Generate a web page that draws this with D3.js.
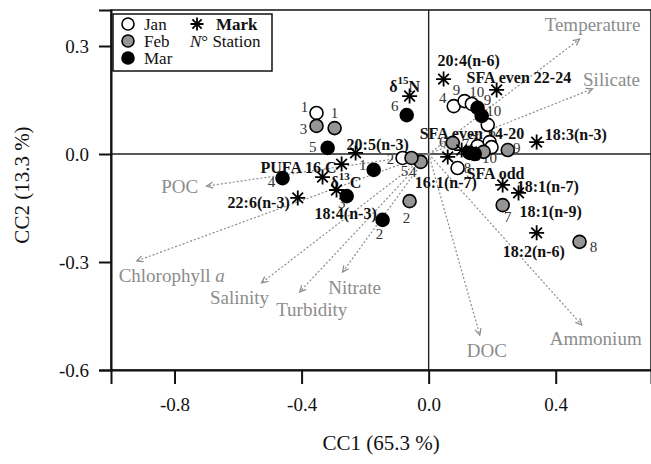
<!DOCTYPE html>
<html>
<head>
<meta charset="utf-8">
<script src="https://cdn.jsdelivr.net/npm/d3@7"></script>
<style>
  body { margin: 0; background: #fff; }
  text { font-family: 'Liberation Serif', 'Times New Roman', serif; }
</style>
</head>
<body>
<div id="chart"></div>
<script>
// station scores (CC1, CC2) by month, stations 1..10
const stations = [1, 2, 3, 4, 5, 6, 7, 8, 9, 10]
const janX = [-0.353, -0.082, 0.192, 0.079, 0.198, 0.186, 0.154, 0.091, 0.113, 0.136]
const janY = [0.114, -0.011, 0.033, 0.133, 0.019, 0.081, 0.022, -0.039, 0.147, 0.139]
const febX = [-0.296, -0.060, -0.353, -0.025, -0.054, 0.076, 0.233, 0.475, 0.249, 0.173]
const febY = [0.072, -0.131, 0.078, -0.022, -0.011, 0.031, -0.142, -0.244, 0.011, 0.006]
const marX = [-0.173, -0.145, -0.258, -0.460, -0.318, -0.069, 0.129, 0.145, 0.154, 0.167]
const marY = [-0.044, -0.183, -0.117, -0.067, 0.017, 0.108, 0.003, 0.0, 0.128, 0.106]

// fatty acid / isotope marks
const markNames = ['δ15N', '20:4(n-6)', 'SFA even 22-24', '18:3(n-3)', 'SFA even 14-20', 'SFA odd',
  '16:1(n-7)', '18:1(n-7)', '18:1(n-9)', '18:2(n-6)', '20:5(n-3)', 'PUFA 16 C', 'δ13C', '18:4(n-3)', '22:6(n-3)']
const markX = [-0.060, 0.047, 0.214, 0.340, 0.104, 0.135, 0.060, 0.233, 0.283, 0.340, -0.230, -0.274, -0.334, -0.290, -0.412]
const markY = [0.161, 0.208, 0.178, 0.033, 0.011, 0.006, -0.008, -0.086, -0.108, -0.219, 0.003, -0.028, -0.064, -0.100, -0.122]

// environmental vectors
const envNames = ['Temperature', 'Silicate', 'POC', 'Chlorophyll a', 'Salinity', 'Turbidity', 'Nitrate', 'DOC', 'Ammonium']
const envX = [0.475, 0.516, -0.699, -0.919, -0.526, -0.406, -0.271, 0.161, 0.482]
const envY = [0.319, 0.181, -0.089, -0.297, -0.358, -0.383, -0.328, -0.503, -0.475]

const xTicks = [-0.8, -0.4, 0.0, 0.4]
const yTicks = [-0.6, -0.3, 0.0, 0.3]
const months = ['Jan', 'Feb', 'Mar']

// label placement (pixels), kept apart from the data
const stationLabelOff = {
  Jan: [[-12, -6], [-12, 1], [3, 3], [-11, -8], [2, 2], [4, 7], [-4, -6], [10, 0], [-8, -11], [5, -12]],
  Feb: [[0, -15], [-3, 17], [-13, 3], [-8, 10], [-7, 13], [-10, -1], [5, 12], [14, 5], [9, -2], [6, 6]],
  Mar: [[-11, -5], [-3, 14], [-5, 7], [-11, 4], [-15, -1], [-12, -9], [-4, -9], [2, 2], [10, -8], [12, -5]]
}
const markLabelOff = [
  [-5, -10, 'middle'], [-6, -19, 'start'], [-30, -12, 'start'], [8, -8, 'start'], [-42, -17, 'start'],
  [-5, 22, 'start'], [-33, 26, 'start'], [14, 2, 'start'], [1, 19, 'start'], [-34, 19, 'start'],
  [-9, -8, 'start'], [-5, 3, 'end'], [8, 5, 'start'], [-22, 23, 'start'], [-8, 5, 'end']
]
const envLabelOff = [[13, -15], [19, -9], [-27, 0], [35, 14], [-22, 15], [12, 18], [12, 15], [7, 15], [14, 13]]

const fills = {Jan: '#ffffff', Feb: '#959595', Mar: '#000000'}
const W = 651, H = 464
const svg = d3.select('#chart').append('svg').attr('width', W).attr('height', H)

const x = d3.scaleLinear().domain([-1.0, 0.7]).range([111, 651])
const y = d3.scaleLinear().domain([-0.6, 0.4]).range([370, 10])
const fmt = d => d3.format('.1f')(d).replace('−', '-')

// frame
svg.append('rect')
  .attr('x', x(-1.0)).attr('y', y(0.4))
  .attr('width', x(0.7) - x(-1.0)).attr('height', y(-0.6) - y(0.4))
  .attr('fill', 'none').attr('stroke', '#111').attr('stroke-width', 1.5)

// zero lines
svg.append('line').attr('x1', x(-1.0)).attr('x2', x(0.7)).attr('y1', y(0)).attr('y2', y(0))
  .attr('stroke', '#222').attr('stroke-width', 1.4)
svg.append('line').attr('x1', x(0)).attr('x2', x(0)).attr('y1', y(0.4)).attr('y2', y(-0.6))
  .attr('stroke', '#222').attr('stroke-width', 1.4)

// axes
const xAxis = svg.append('g').attr('transform', `translate(0,${y(-0.6)})`)
  .call(d3.axisBottom(x).tickValues(xTicks).tickFormat(fmt).tickSize(14).tickPadding(14))
const yAxis = svg.append('g').attr('transform', `translate(${x(-1.0)},0)`)
  .call(d3.axisLeft(y).tickValues(yTicks).tickFormat(fmt).tickSize(12).tickPadding(10))
;[xAxis, yAxis].forEach(a => {
  a.select('.domain').attr('stroke', '#111').attr('stroke-width', 2)
  a.selectAll('.tick line').attr('stroke', '#111').attr('stroke-width', 2)
  a.selectAll('.tick text').attr('font-size', 19).attr('fill', '#111')
    .attr('font-family', "'Liberation Serif', serif")
})

svg.append('text').attr('x', (x(-1.0) + x(0.7)) / 2).attr('y', 450)
  .attr('text-anchor', 'middle').attr('font-size', 21).attr('fill', '#111').text('CC1 (65.3 %)')
svg.append('text').attr('transform', `translate(29,${(y(0.4) + y(-0.6)) / 2 - 5}) rotate(-90)`)
  .attr('text-anchor', 'middle').attr('font-size', 21).attr('fill', '#111').text('CC2 (13.3 %)')

// environmental arrows
const envG = svg.append('g')
envNames.forEach((name, i) => {
  const x0 = x(0), y0 = y(0), x1 = x(envX[i]), y1 = y(envY[i])
  envG.append('line').attr('x1', x0).attr('y1', y0).attr('x2', x1).attr('y2', y1)
    .attr('stroke', '#8c8c8c').attr('stroke-width', 1.2).attr('stroke-dasharray', '2,2')
  const ang = Math.atan2(y1 - y0, x1 - x0)
  const hl = 7, ha = Math.PI / 7
  envG.append('path')
    .attr('d', `M${x1 - hl * Math.cos(ang - ha)},${y1 - hl * Math.sin(ang - ha)}L${x1},${y1}L${x1 - hl * Math.cos(ang + ha)},${y1 - hl * Math.sin(ang + ha)}`)
    .attr('fill', 'none').attr('stroke', '#8c8c8c').attr('stroke-width', 1.2)
  const t = envG.append('text')
    .attr('x', x1 + envLabelOff[i][0]).attr('y', y1 + envLabelOff[i][1])
    .attr('text-anchor', 'middle').attr('dominant-baseline', 'central')
    .attr('font-size', 19).attr('fill', '#8c8c8c')
  if (name.endsWith(' a')) {
    t.append('tspan').text(name.slice(0, -1))
    t.append('tspan').attr('font-style', 'italic').text('a')
  } else t.text(name)
})

// mark labels
const markG = svg.append('g')
markNames.forEach((name, i) => {
  const o = markLabelOff[i]
  const t = markG.append('text')
    .attr('x', x(markX[i]) + o[0]).attr('y', y(markY[i]) + o[1])
    .attr('text-anchor', o[2]).attr('dominant-baseline', 'central')
    .attr('font-size', 16).attr('font-weight', 'bold').attr('fill', '#111')
  const m = name.match(/^δ(\d+)(.*)$/)
  if (m) {
    t.append('tspan').text('δ')
    t.append('tspan').attr('font-size', 11).attr('dy', -6).text(m[1])
    t.append('tspan').attr('dy', 6).text(m[2])
  } else t.text(name)
})

// station labels and circles
const monthData = {Jan: [janX, janY], Feb: [febX, febY], Mar: [marX, marY]}
const lblG = svg.append('g')
const ptG = svg.append('g')
months.forEach(mo => {
  const [xs, ys] = monthData[mo]
  stations.forEach((s, i) => {
    const off = stationLabelOff[mo][i]
    lblG.append('text')
      .attr('x', x(xs[i]) + off[0]).attr('y', y(ys[i]) + off[1])
      .attr('text-anchor', 'middle').attr('dominant-baseline', 'central')
      .attr('font-size', 15).attr('fill', '#333').text(s)
    ptG.append('circle')
      .attr('cx', x(xs[i])).attr('cy', y(ys[i])).attr('r', 6.5)
      .attr('fill', fills[mo]).attr('stroke', '#000').attr('stroke-width', 1.6)
  })
})

// asterisks
const star = s => {
  const k = s * 0.707
  return `M${-s},0L${s},0M0,${-s}L0,${s}M${-k},${-k}L${k},${k}M${-k},${k}L${k},${-k}`
}
svg.append('g').selectAll('path').data(markNames).enter().append('path')
  .attr('transform', (d, i) => `translate(${x(markX[i])},${y(markY[i])})`)
  .attr('d', star(7.5)).attr('stroke', '#000').attr('stroke-width', 1.8).attr('fill', 'none')

// legend
const lg = svg.append('g')
lg.append('rect').attr('x', 113).attr('y', 14).attr('width', 159).attr('height', 57)
  .attr('fill', '#fff').attr('stroke', '#111').attr('stroke-width', 1.5)
months.forEach((mo, i) => {
  lg.append('circle').attr('cx', 128).attr('cy', 24 + i * 17).attr('r', 6)
    .attr('fill', fills[mo]).attr('stroke', '#000').attr('stroke-width', 1.6)
  lg.append('text').attr('x', 144).attr('y', 24 + i * 17).attr('dominant-baseline', 'central')
    .attr('font-size', 17).attr('fill', '#111').text(mo)
})
lg.append('path').attr('transform', 'translate(197,24)').attr('d', star(6.5))
  .attr('stroke', '#000').attr('stroke-width', 1.8)
lg.append('text').attr('x', 216).attr('y', 24).attr('dominant-baseline', 'central')
  .attr('font-size', 17).attr('font-weight', 'bold').attr('fill', '#111').text('Mark')
const ns = lg.append('text').attr('x', 190).attr('y', 41).attr('dominant-baseline', 'central')
  .attr('font-size', 17).attr('fill', '#111')
ns.append('tspan').attr('font-style', 'italic').text('N')
ns.append('tspan').text('° Station')
</script>
</body>
</html>
